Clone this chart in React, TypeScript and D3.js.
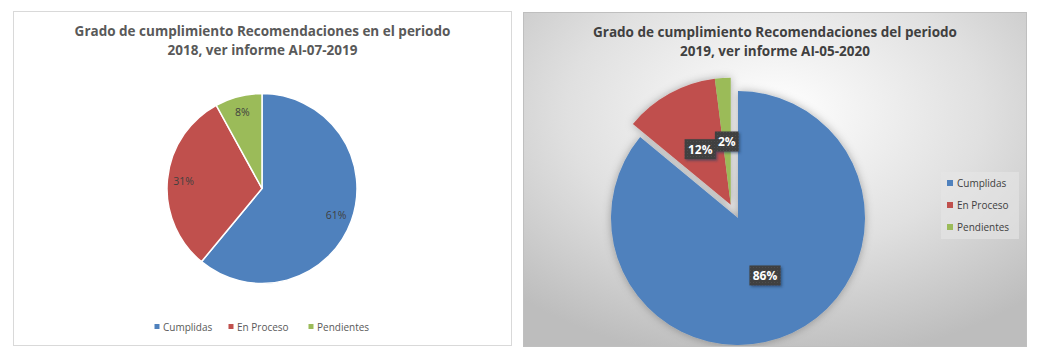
import React from "react";
import * as d3 from "d3";

const categories = ["Cumplidas", "En Proceso", "Pendientes"];
const colors = ["#4f81bd", "#c0504d", "#9bbb59"];
const values2018 = [61, 31, 8];
const values2019 = [86, 12, 2];
const title2018 = ["Grado de cumplimiento Recomendaciones en el periodo", "2018, ver informe AI-07-2019"];
const title2019 = ["Grado de cumplimiento Recomendaciones del periodo", "2019, ver informe AI-05-2020"];

const FONT = "'Open Sans', 'Noto Sans', sans-serif";

function LeftChart() {
  const cx = 262, cy = 188.5, R = 95;
  const pie = d3.pie<number>().sort(null).value((d) => d)(values2018);
  const arc = d3.arc<d3.PieArcDatum<number>>().innerRadius(0).outerRadius(R);
  const labelArc = d3.arc<d3.PieArcDatum<number>>().innerRadius(R * 0.83).outerRadius(R * 0.83);
  const total = d3.sum(values2018);
  const legendX = [157, 231, 311];
  return (
    <g>
      <rect x={13.5} y={11.5} width={498} height={334} fill="#ffffff" stroke="#d9d9d9" />
      {title2018.map((t, i) => (
        <text key={i} x={262.5} y={36 + i * 19} textAnchor="middle" fontFamily={FONT} fontWeight="bold"
          fontSize={13.5} fill="#595959">{t}</text>
      ))}
      <g transform={`translate(${cx},${cy})`}>
        {pie.map((p, i) => (
          <path key={i} d={arc(p) || ""} fill={colors[i]} stroke="#ffffff" strokeWidth={1.5} />
        ))}
        {pie.map((p, i) => {
          const [lx, ly] = labelArc.centroid(p);
          return (
            <text key={i} x={lx} y={ly + 3.8} textAnchor="middle" fontFamily={FONT} fontSize={10.5} fill="#404040">
              {Math.round((p.value / total) * 100)}%
            </text>
          );
        })}
      </g>
      {categories.map((c, i) => (
        <g key={i}>
          <rect x={legendX[i] - 2.5} y={324} width={5} height={5} fill={colors[i]} />
          <text x={legendX[i] + 6} y={330.5} fontFamily={FONT} fontSize={10} fill="#595959">{c}</text>
        </g>
      ))}
    </g>
  );
}

function RightChart() {
  const cx = 738, cy = 218, R = 127;
  const pie = d3.pie<number>().sort(null).value((d) => d)(values2019);
  const arc = d3.arc<d3.PieArcDatum<number>>().innerRadius(0).outerRadius(R);
  const labelArc = d3.arc<d3.PieArcDatum<number>>().innerRadius(R * 0.5).outerRadius(R * 0.5);
  const total = d3.sum(values2019);
  // exploded group (red + green) shifted along red slice bisector
  const redMid = (pie[1].startAngle + pie[1].endAngle) / 2;
  const explode = 15;
  const ex = Math.sin(redMid) * explode;
  const ey = -Math.cos(redMid) * explode;
  const offsets = [[0, 0], [ex, ey], [ex, ey]];
  const legendRows = [183, 205, 227];
  return (
    <g>
      <defs>
        <radialGradient id="bg2" cx="50%" cy="30%" r="75%" fx="50%" fy="30%">
          <stop offset="0%" stopColor="#ffffff" />
          <stop offset="55%" stopColor="#e0e0e0" />
          <stop offset="100%" stopColor="#bdbdbd" />
        </radialGradient>
        <clipPath id="clip2">
          <rect x={523} y={12} width={504} height={335} />
        </clipPath>
        <filter id="pieShadow" x="-20%" y="-20%" width="140%" height="140%">
          <feDropShadow dx={0} dy={0} stdDeviation={4} floodColor="#000000" floodOpacity={0.3} />
        </filter>
        <filter id="boxShadow" x="-30%" y="-30%" width="170%" height="170%">
          <feDropShadow dx={1.5} dy={1.5} stdDeviation={1.2} floodColor="#1f3a60" floodOpacity={0.6} />
        </filter>
        <pattern id="dots" width={3} height={3} patternUnits="userSpaceOnUse">
          <rect width={3} height={3} fill="#404040" />
          <rect width={1} height={1} fill="#4d4d4d" />
        </pattern>
      </defs>
      <rect x={523} y={12} width={504} height={335} fill="url(#bg2)" />
      <g clipPath="url(#clip2)">
        {title2019.map((t, i) => (
          <text key={i} x={775} y={37 + i * 19} textAnchor="middle" fontFamily={FONT} fontWeight="bold"
            fontSize={13.5} fill="#404040">{t}</text>
        ))}
        <g filter="url(#pieShadow)">
          {pie.map((p, i) => (
            <path key={i} transform={`translate(${cx + offsets[i][0]},${cy + offsets[i][1]})`}
              d={arc(p) || ""} fill={colors[i]} />
          ))}
        </g>
        {pie.map((p, i) => {
          const [lx, ly] = labelArc.centroid(p);
          const x = cx + offsets[i][0] + lx;
          const y = cy + offsets[i][1] + ly;
          const txt = `${Math.round((p.value / total) * 100)}%`;
          const w = txt.length * 7.4 + 9;
          return (
            <g key={i}>
              <rect x={x - w / 2} y={y - 10} width={w} height={20} fill="url(#dots)" filter="url(#boxShadow)" />
              <text x={x} y={y + 4.5} textAnchor="middle" fontFamily={FONT} fontWeight="bold" fontSize={12}
                fill="#ffffff">{txt}</text>
            </g>
          );
        })}
        <rect x={941} y={172} width={78} height={67} fill="#e6e6e6" opacity={0.6} />
        {categories.map((c, i) => (
          <g key={i}>
            <rect x={947} y={legendRows[i] - 3} width={6} height={6} fill={colors[i]} />
            <text x={957} y={legendRows[i] + 3.5} fontFamily={FONT} fontSize={10} fill="#404040">{c}</text>
          </g>
        ))}
      </g>
      <rect x={523.5} y={12.5} width={503} height={334} fill="none" stroke="#bfbfbf" />
    </g>
  );
}

export default function App() {
  return (
    <svg width={1038} height={355} style={{ position: "absolute", left: 0, top: 0, display: "block" }}
      xmlns="http://www.w3.org/2000/svg">
      <rect width={1038} height={355} fill="#ffffff" />
      <LeftChart />
      <RightChart />
    </svg>
  );
}
